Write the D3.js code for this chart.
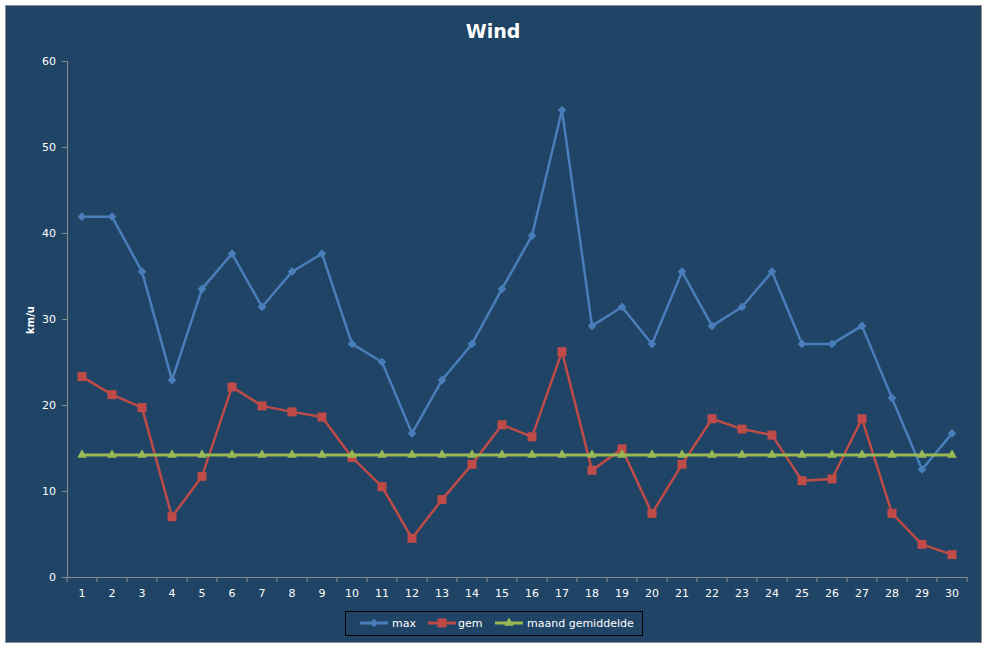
<!DOCTYPE html>
<html><head><meta charset="utf-8">
<script src="https://cdn.jsdelivr.net/npm/d3@7"></script>
<style>body{margin:0;background:#fff}svg{display:block}</style>
</head><body>
<script>
const days = d3.range(1, 31).map(String);
const maxWind = [41.9,41.9,35.5,22.9,33.5,37.6,31.4,35.5,37.6,27.1,25.0,16.7,22.9,27.1,33.5,39.7,54.3,29.2,31.4,27.1,35.5,29.2,31.4,35.5,27.1,27.1,29.2,20.8,12.5,16.7];
const gemWind = [23.3,21.2,19.7,7.0,11.7,22.1,19.9,19.2,18.6,13.9,10.5,4.5,9.0,13.1,17.7,16.3,26.2,12.4,14.9,7.4,13.1,18.4,17.2,16.5,11.2,11.4,18.4,7.4,3.8,2.6];
const maandGem = days.map(() => 14.2);
const yTicks = [0,10,20,30,40,50,60];
const seriesNames = ["max","gem","maand gemiddelde"];
const colors = ["#4A7EBB","#BE4B48","#98B954"];

const W = 987, H = 648;
const svg = d3.select("body").append("svg").attr("width", W).attr("height", H);
const font = "DejaVu Sans, Verdana, sans-serif";
svg.append("rect").attr("x",5.5).attr("y",5.5).attr("width",976).attr("height",637)
  .attr("fill","#1F4465").attr("stroke","#8C8C8C").attr("stroke-width",1);

const pLeft = 67, pRight = 967, pTop = 61, pBottom = 577;
const x = d3.scaleBand().domain(days).range([pLeft, pRight]).padding(0);
const y = d3.scaleLinear().domain([0, 60]).range([pBottom, pTop]);
const cx = d => x(d) + x.bandwidth()/2;

svg.append("text").attr("x", 493).attr("y", 38).attr("text-anchor","middle")
  .attr("font-family", font).attr("font-weight","bold").attr("font-size",19).attr("fill","#fff").text("Wind");
svg.append("text").attr("transform","translate(34,320) rotate(-90)").attr("text-anchor","middle")
  .attr("font-family", font).attr("font-weight","bold").attr("font-size",10).attr("fill","#fff").text("km/u");

// y axis
const ya = svg.append("g").attr("transform",`translate(${pLeft},0)`)
  .call(d3.axisLeft(y).tickValues(yTicks).tickSize(5).tickPadding(6));
ya.select(".domain").attr("stroke","#8C8C8C");
ya.selectAll(".tick line").attr("stroke","#8C8C8C");
ya.selectAll("text").attr("fill","#fff").attr("font-family",font).attr("font-size",11);

// x axis with ticks at category boundaries
const xa = svg.append("g").attr("transform",`translate(0,${pBottom})`)
  .call(d3.axisBottom(x).tickSize(0).tickPadding(12));
xa.select(".domain").attr("stroke","#8C8C8C");
xa.selectAll("text").attr("fill","#fff").attr("font-family",font).attr("font-size",11);
svg.append("g").selectAll("line").data(days.concat(["end"])).join("line")
  .attr("x1",(d,i)=> pLeft + i*x.step()).attr("x2",(d,i)=> pLeft + i*x.step())
  .attr("y1",pBottom).attr("y2",pBottom+5).attr("stroke","#8C8C8C");

const line = d3.line().x((d,i)=>cx(days[i])).y(d=>y(d));
const allSeries = [maxWind, gemWind, maandGem];

function marker(g, type, color, px, py) {
  if (type === 0) {
    g.append("path").attr("d", d3.symbol(d3.symbolDiamond2, 48)()).attr("transform",`translate(${px},${py})`).attr("fill",color);
  } else if (type === 1) {
    g.append("rect").attr("x",px-4.5).attr("y",py-4.5).attr("width",9).attr("height",9).attr("fill",color);
  } else {
    g.append("path").attr("d", d3.symbol(d3.symbolTriangle, 40)()).attr("transform",`translate(${px},${py})`).attr("fill",color);
  }
}

allSeries.forEach((s, k) => {
  const g = svg.append("g");
  g.append("path").datum(s).attr("d", line).attr("fill","none").attr("stroke",colors[k]).attr("stroke-width",k===2?3:2.5).attr("stroke-linejoin","round");
  s.forEach((v,i)=> marker(g, k, colors[k], cx(days[i]), y(v)));
});

// legend
const lg = svg.append("g");
lg.append("rect").attr("x",345.5).attr("y",611.5).attr("width",297).attr("height",24).attr("fill","none").attr("stroke","#000").attr("stroke-width",1);
const lx = [360, 428, 495];
const tx = [392, 458, 527];
seriesNames.forEach((n,k)=>{
  lg.append("line").attr("x1",lx[k]).attr("x2",lx[k]+28).attr("y1",623).attr("y2",623).attr("stroke",colors[k]).attr("stroke-width",3);
  marker(lg, k, colors[k], lx[k]+14, 623);
  lg.append("text").attr("x",tx[k]).attr("y",627).attr("fill","#fff").attr("font-family",font).attr("font-size",11).text(n);
});
</script>
</body></html>
